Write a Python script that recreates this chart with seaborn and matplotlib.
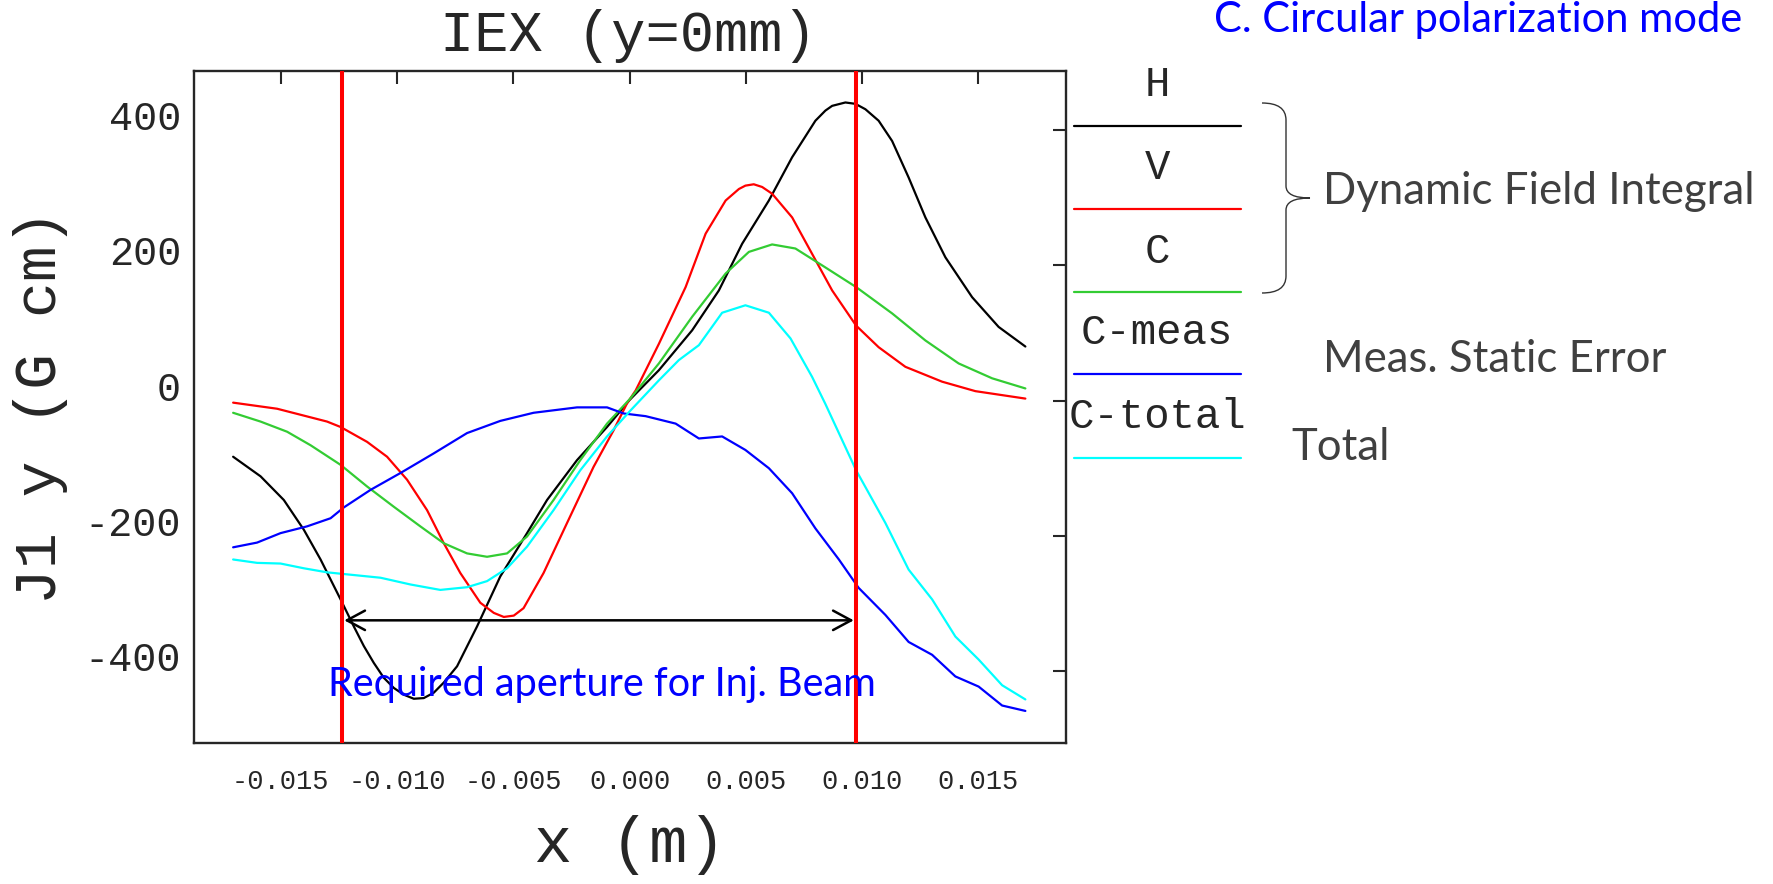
import matplotlib.pyplot as plt
from matplotlib.lines import Line2D
from matplotlib.path import Path
from matplotlib.patches import PathPatch
import numpy as np
import pandas as pd
import seaborn as sns

# values (x in m, J1y in G cm)
h_x = [-0.01705, -0.01587, -0.01487, -0.01401, -0.01329, -0.01243, -0.01186, -0.01143, -0.0110, -0.01057,
       -0.01014, -0.00971, -0.00928, -0.00885, -0.00842, -0.00799, -0.00742, -0.00656, -0.00556, -0.00441,
       -0.00355, -0.00226, -0.00097, 0.0, 0.00126, 0.00269, 0.00384, 0.00484, 0.00599, 0.00699,
       0.00799, 0.00842, 0.00871, 0.00928, 0.00971, 0.01014, 0.01071, 0.01129, 0.012, 0.01272,
       0.01358, 0.01473, 0.01587, 0.01702]
h_y = [-83, -112, -147, -191, -235, -294, -334, -363, -388, -410,
       -425, -435, -441, -440, -432, -417, -393, -334, -260, -196,
       -147, -88, -39, 1, 45, 104, 163, 232, 296, 360,
       414, 429, 436, 441, 439, 431, 414, 384, 330, 271,
       212, 153, 109, 80]

v_x = [-0.01705, -0.01516, -0.01301, -0.01243, -0.01129, -0.01043, -0.00957, -0.00871, -0.00799, -0.00728,
       -0.00642, -0.00584, -0.00541, -0.00498, -0.00456, -0.0037, -0.00269, -0.00155, -0.00069, -0.00011,
       0.00026, 0.00126, 0.00241, 0.00327, 0.00413, 0.0047, 0.00498, 0.00534, 0.0057, 0.00613,
       0.00699, 0.00785, 0.00871, 0.00974, 0.01071, 0.01186, 0.01344, 0.01487, 0.01702]
v_y = [-3, -12, -31, -39, -61, -83, -117, -162, -211, -255,
       -299, -314, -320, -318, -307, -255, -181, -98, -44, -4,
       15, 84, 168, 247, 296, 313, 318, 320, 316, 306,
       271, 217, 163, 111, 79, 50, 28, 14, 3]

c_x = [-0.01705, -0.01587, -0.01473, -0.01372, -0.01243, -0.01129, -0.01014, -0.009, -0.00799, -0.00699,
       -0.00613, -0.00527, -0.00441, -0.00327, -0.00212, -0.00097, 0.0, 0.00126, 0.00269, 0.00413,
       0.00513, 0.00613, 0.00713, 0.00842, 0.00974, 0.01129, 0.01272, 0.01415, 0.01559, 0.01702]
c_y = [-18, -31, -46, -66, -95, -127, -157, -186, -211, -226,
       -231, -226, -201, -147, -88, -34, 2, 55, 124, 188,
       220, 231, 225, 197, 168, 129, 89, 55, 33, 18]

cmeas_x = [-0.01705, -0.01602, -0.01501, -0.01387, -0.01286, -0.01229, -0.01114, -0.00985, -0.00842, -0.00699,
           -0.00556, -0.00413, -0.00226, -0.00097, -0.00026, 0.00069, 0.00198, 0.00298, 0.00398, 0.00498,
           0.00599, 0.00699, 0.00799, 0.009, 0.00985, 0.011, 0.012, 0.01301, 0.01401, 0.01501,
           0.01602, 0.01702]
cmeas_y = [-217, -210, -196, -186, -174, -158, -132, -107, -78, -48,
           -30, -18, -10, -10, -19, -23, -34, -56, -53, -73,
           -100, -137, -189, -235, -277, -317, -357, -376, -408, -423,
           -451, -459]

ctot_x = [-0.01705, -0.01602, -0.01501, -0.01401, -0.01301, -0.01186, -0.01071, -0.00942, -0.00814, -0.00699,
          -0.00613, -0.00527, -0.00441, -0.00327, -0.00212, -0.00097, 0.0, 0.00126, 0.00212, 0.00298,
          0.00398, 0.00498, 0.00599, 0.00692, 0.00785, 0.00842, 0.009, 0.00974, 0.011, 0.012,
          0.01301, 0.01401, 0.01501, 0.01602, 0.01702]
ctot_y = [-235, -240, -241, -248, -254, -258, -262, -272, -280, -276,
          -267, -248, -216, -162, -103, -53, -16, 30, 60, 82,
          130, 141, 130, 92, 35, -5, -48, -103, -181, -250,
          -294, -349, -383, -421, -442]

series = ['H', 'V', 'C', 'C-meas', 'C-total']
colors = ['#000000', '#ff0000', '#33cc33', '#0000ff', '#00ffff']
aperture = [-0.01237, 0.00974]   # red lines = required aperture
arrow_y = -325

xticks = [-0.015, -0.010, -0.005, 0.000, 0.005, 0.010, 0.015]
xtick_labels = ['-0.015', '-0.010', '-0.005', '0.000', '0.005', '0.010', '0.015']
yticks = [-400, -200, 0, 200, 400]
ytick_labels = ['-400', '-200', '0', '200', '400']

# long table for seaborn
frames = []
for name, xs, ys in zip(series, [h_x, v_x, c_x, cmeas_x, ctot_x], [h_y, v_y, c_y, cmeas_y, ctot_y]):
    frames.append(pd.DataFrame({'x': xs, 'J1y': ys, 'series': name}))
df = pd.concat(frames, ignore_index=True)

sns.set_style(style='white')
plt.rcParams['font.family'] = ['Liberation Mono', 'DejaVu Sans Mono']

W, H = 1773, 884
def fx(px):
    return px / W
def fy(py):
    return 1 - py / H

fig = plt.figure(figsize=(W / 100, H / 100), dpi=100)
ax = fig.add_axes([fx(193.6), fy(742.7), (1065.6 - 193.6) / W, (742.7 - 70.7) / H])

sns.lineplot(data=df, x='x', y='J1y', hue='series', hue_order=series,
             palette=dict(zip(series, colors)), estimator=None, sort=True,
             legend=False, linewidth=1.6, ax=ax)

for xa in aperture:
    ax.axvline(xa, color='#ff0000', lw=2.9, zorder=5)

ax.annotate('', xy=(aperture[1] - 0.0001, arrow_y), xytext=(aperture[0] + 0.0001, arrow_y),
            arrowprops=dict(arrowstyle='<->,head_length=0.65,head_width=0.35', mutation_scale=20,
                            lw=1.8, color='black', shrinkA=0, shrinkB=0), zorder=6)
ax.text(-0.0012, -420, 'Required aperture for Inj. Beam', color='#0000ff', fontsize=28.5,
        family=['Lato', 'DejaVu Sans'], ha='center', va='center', zorder=7)

ax.set_xlim(-0.01875, 0.01875)
ax.set_ylim(-506, 488)
ax.set_xticks(xticks)
ax.set_xticklabels(xtick_labels)
ax.set_yticks(yticks)
ax.set_yticklabels(ytick_labels)
ax.tick_params(direction='in', top=True, right=True, length=9.5, width=1.5)
ax.tick_params(axis='x', labelsize=19.5, pad=19)
ax.tick_params(axis='y', labelsize=29, pad=9)
plt.setp(ax.get_yticklabels(), va='baseline')
for s in ax.spines.values():
    s.set_linewidth(1.7)

ax.set_xlabel('x (m)', fontsize=46, va='center')
ax.xaxis.set_label_coords(0.5, -0.152)
ax.set_ylabel('J1 y (G cm)', fontsize=43, va='center')
ax.yaxis.set_label_coords(-0.176, 0.5)
fig.text(fx(628), fy(36), 'IEX (y=0mm)', ha='center', va='center', fontsize=41)

# hand-made legend: label above a short line
legend_text_y = [85, 168, 252, 333, 417]
legend_line_y = [126, 209, 292, 374, 458]
for name, col, ty, ly in zip(series, colors, legend_text_y, legend_line_y):
    fig.text(fx(1157), fy(ty), name, ha='center', va='center', fontsize=30.5)
    fig.add_artist(Line2D([fx(1074), fx(1241)], [fy(ly), fy(ly)], transform=fig.transFigure,
                          color=col, lw=1.6))

# curly brace grouping H, V, C
verts = [(1262, 103), (1286, 103), (1286, 120), (1286, 186), (1286, 198), (1310, 198),
         (1286, 198), (1286, 210), (1286, 276), (1286, 293), (1262, 293)]
codes = [Path.MOVETO, Path.CURVE3, Path.CURVE3, Path.LINETO, Path.CURVE3, Path.CURVE3,
         Path.CURVE3, Path.CURVE3, Path.LINETO, Path.CURVE3, Path.CURVE3]
brace = Path([(fx(a), fy(b)) for a, b in verts], codes)
fig.add_artist(PathPatch(brace, transform=fig.transFigure, fill=False, lw=1.0, edgecolor='#333333'))

note_font = ['Lato', 'DejaVu Sans']
fig.text(fx(1323), fy(191), 'Dynamic Field Integral', ha='left', va='center', fontsize=31.5,
         color='#404040', family=note_font)
fig.text(fx(1323), fy(359), 'Meas. Static Error', ha='left', va='center', fontsize=31.5,
         color='#404040', family=note_font)
fig.text(fx(1291), fy(448), 'Total', ha='left', va='center', fontsize=31.5,
         color='#404040', family=note_font)
fig.text(fx(1214), fy(32), 'C. Circular polarization mode', ha='left', va='baseline', fontsize=30,
         color='#0000ff', family=note_font)

fig.savefig('out.png', dpi=100)
